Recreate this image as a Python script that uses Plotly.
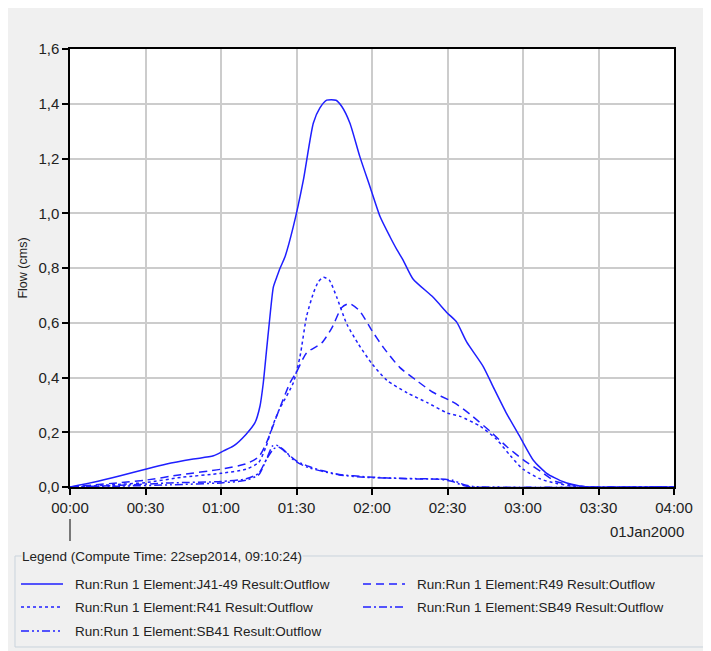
import plotly.graph_objects as go

# ---------------- data (minutes after 01Jan2000 00:00, flow in cms) ----------------
t_j4149 = [0, 9.3, 20, 30, 38.4, 49, 57, 61, 65, 70, 73.5, 75.5, 76.8, 78.1, 79.2, 80.8, 82.1, 83.5,
           85.4, 88.7, 92.7, 96.7, 99.3, 102, 105.7, 108, 111.2, 115.2, 119.2, 123.2, 127.1, 130,
           132.3, 136.3, 144.3, 150, 153.6, 157.6, 164.2, 168.2, 173.5, 178.8, 184.1, 189.4, 196,
           202.6, 208, 240]
q_j4149 = [0, 0.017, 0.041, 0.065, 0.084, 0.102, 0.114, 0.132, 0.15, 0.193, 0.235, 0.296, 0.38, 0.5,
           0.6, 0.73, 0.765, 0.8, 0.84, 0.95, 1.12, 1.33, 1.385, 1.413, 1.413, 1.39, 1.33, 1.206,
           1.097, 0.988, 0.915, 0.865, 0.83, 0.76, 0.693, 0.635, 0.603, 0.53, 0.44, 0.365, 0.268,
           0.183, 0.098, 0.05, 0.019, 0.004, 0, 0]

t_r49 = [0, 10, 20, 30, 44, 60, 70, 75, 78, 83, 87.4, 90, 94, 100, 104, 108, 111, 115, 120, 124.5,
         131, 138, 144, 151, 154, 160, 167, 173.5, 180, 187, 193, 200, 206, 240]
q_r49 = [0, 0.008, 0.016, 0.025, 0.045, 0.065, 0.085, 0.11, 0.16, 0.28, 0.38, 0.42, 0.49, 0.526,
         0.58, 0.656, 0.67, 0.644, 0.571, 0.51, 0.437, 0.387, 0.347, 0.316, 0.3, 0.258, 0.203,
         0.148, 0.1, 0.057, 0.02, 0.007, 0, 0]

t_r41 = [0, 20, 30, 44, 60, 70, 75, 78, 80, 83, 88.7, 91.4, 94, 96.7, 98.7, 100.7, 103, 106, 110,
         114.6, 120, 126, 134, 142, 150, 155, 163, 169.5, 175, 180, 187, 193, 200, 205, 240]
q_r41 = [0, 0.01, 0.016, 0.035, 0.05, 0.065, 0.09, 0.15, 0.21, 0.28, 0.38, 0.477, 0.623, 0.708,
         0.75, 0.766, 0.756, 0.693, 0.595, 0.522, 0.45, 0.389, 0.344, 0.308, 0.27, 0.258, 0.222,
         0.174, 0.114, 0.065, 0.029, 0.014, 0.003, 0, 0]

t_sb49 = [0, 20, 40, 60, 70, 75, 78, 81, 83, 86, 90, 95, 100, 107, 118, 131, 140, 147, 152, 156,
          160, 240]
q_sb49 = [0, 0.006, 0.015, 0.02, 0.03, 0.05, 0.1, 0.14, 0.145, 0.125, 0.095, 0.075, 0.06, 0.046,
          0.037, 0.031, 0.029, 0.028, 0.02, 0.006, 0, 0]

t_sb41 = [0, 20, 40, 60, 70, 75, 78, 80.5, 82, 85, 88, 91, 95, 100, 107, 118, 131, 140, 147, 152,
          156, 160, 165, 240]
q_sb41 = [0, 0.003, 0.008, 0.015, 0.025, 0.045, 0.1, 0.15, 0.153, 0.135, 0.105, 0.086, 0.07,
          0.058, 0.044, 0.035, 0.032, 0.03, 0.029, 0.025, 0.01, 0.002, 0, 0]

series_names = [
    "Run:Run 1 Element:J41-49 Result:Outflow",
    "Run:Run 1 Element:R49 Result:Outflow",
    "Run:Run 1 Element:R41 Result:Outflow",
    "Run:Run 1 Element:SB49 Result:Outflow",
    "Run:Run 1 Element:SB41 Result:Outflow",
]

x_tick_vals = [0, 30, 60, 90, 120, 150, 180, 210, 240]
x_tick_text = ["00:00", "00:30", "01:00", "01:30", "02:00", "02:30", "03:00", "03:30", "04:00"]
y_tick_vals = [0, 0.2, 0.4, 0.6, 0.8, 1.0, 1.2, 1.4, 1.6]
y_tick_text = ["0,0", "0,2", "0,4", "0,6", "0,8", "1,0", "1,2", "1,4", "1,6"]

legend_title = "Legend (Compute Time: 22sep2014, 09:10:24)"
date_label = "01Jan2000"
y_title = "Flow (cms)"

# ---------------- styling ----------------
BLUE = "#1f1fff"
dashes = ["solid", "8px,5px", "3px,3px", "8px,3px,2px,3px", "8px,3px,2px,3px,2px,3px"]
FONT = "Liberation Sans, Arial, sans-serif"
OFF = 8                      # page body margin
W, H = 711 - OFF, 651 - OFF  # figure size
PL, PR, PT, PB = 70, 674, 49, 487  # plot area in page pixels


def px(x):
    return (x - PL) / (PR - PL)


def py(y):
    return (PB - y) / (PB - PT)


fig = go.Figure()
data = [(t_j4149, q_j4149), (t_r49, q_r49), (t_r41, q_r41), (t_sb49, q_sb49), (t_sb41, q_sb41)]
for (tx, qy), name, d in zip(data, series_names, dashes):
    fig.add_trace(go.Scatter(x=tx, y=qy, mode="lines", name=name,
                             line=dict(color=BLUE, width=1.5, dash=d, shape="spline", smoothing=0.6),
                             showlegend=False))

shapes = []
# small marker below 00:00
shapes.append(dict(type="line", xref="paper", yref="paper", x0=px(70), x1=px(70), y0=py(519), y1=py(541),
                   line=dict(color="black", width=1)))
# legend box
shapes.append(dict(type="rect", xref="paper", yref="paper", x0=px(15), x1=px(708), y0=py(556), y1=py(647),
                   line=dict(color="#c9d3dc", width=1), fillcolor="rgba(0,0,0,0)"))

annotations = []
annotations.append(dict(text=legend_title, xref="paper", yref="paper", x=px(21), y=py(556),
                        xanchor="left", yanchor="middle", showarrow=False, bgcolor="#f0f0f0",
                        font=dict(family=FONT, size=13.5, color="#222"), borderpad=0))
annotations.append(dict(text=date_label, xref="paper", yref="paper", x=px(686), y=py(531),
                        xanchor="right", yanchor="middle", showarrow=False,
                        font=dict(family=FONT, size=15, color="#222")))

leg_pos = [(21, 584), (363, 584), (21, 607), (363, 607), (21, 631)]
for (lx, ly), name, d in zip(leg_pos, series_names, dashes):
    shapes.append(dict(type="line", xref="paper", yref="paper", x0=px(lx), x1=px(lx + 42),
                       y0=py(ly), y1=py(ly), line=dict(color=BLUE, width=1.5, dash=d)))
    annotations.append(dict(text=name, xref="paper", yref="paper", x=px(lx + 52), y=py(ly),
                            xanchor="left", yanchor="middle", showarrow=False,
                            font=dict(family=FONT, size=13.5, color="#222")))

fig.update_layout(
    width=W, height=H,
    margin=dict(l=PL - OFF, r=W - (PR - OFF), t=PT - OFF, b=H - (PB - OFF), pad=0),
    paper_bgcolor="#f0f0f0", plot_bgcolor="white",
    font=dict(family=FONT, size=15, color="#222"),
    shapes=shapes, annotations=annotations,
    showlegend=False,
)
fig.update_xaxes(range=[0, 240], tickvals=x_tick_vals, ticktext=x_tick_text,
                 showgrid=True, gridcolor="#cccccc", gridwidth=1.5,
                 showline=True, linecolor="black", linewidth=1.5, mirror=True,
                 ticks="outside", ticklen=6, tickcolor="black", tickwidth=1.5,
                 zeroline=False, tickfont=dict(size=15, color="#222"))
fig.update_yaxes(range=[0, 1.6], tickvals=y_tick_vals, ticktext=y_tick_text,
                 showgrid=True, gridcolor="#cccccc", gridwidth=1.5,
                 showline=True, linecolor="black", linewidth=1.5, mirror=True,
                 ticks="outside", ticklen=6, tickcolor="black", tickwidth=1.5,
                 zeroline=False, tickfont=dict(size=15, color="#222"),
                 title=dict(text=y_title, font=dict(size=12.5, color="#222"), standoff=8))

fig.write_html("out.html")
